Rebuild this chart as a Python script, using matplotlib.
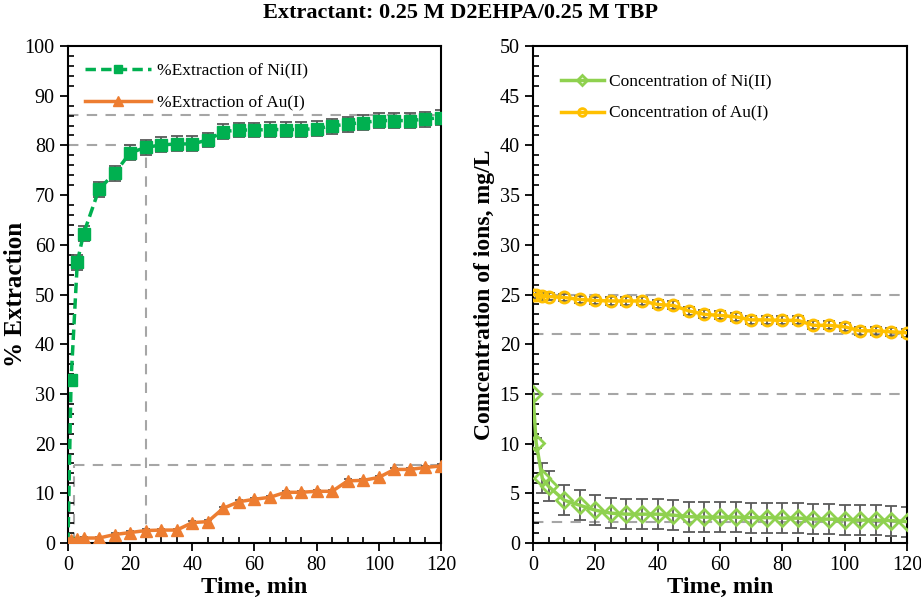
import numpy as np
import matplotlib.pyplot as plt
from matplotlib.ticker import MultipleLocator

plt.rcParams['font.family'] = ['Liberation Serif', 'DejaVu Serif']

# sampling times, min
t = [0, 1, 3, 5, 10, 15, 20, 25, 30, 35, 40, 45, 50, 55, 60, 65, 70, 75, 80,
     85, 90, 95, 100, 105, 110, 115, 120]

ext_ni = [0, 32.8, 56.5, 62.2, 71.2, 74.4, 78.5, 79.6, 80.1, 80.3, 80.3, 81.1,
          82.8, 83.1, 83.1, 83.2, 83.2, 83.2, 83.4, 83.9, 84.3, 84.6, 85.0,
          85.0, 85.0, 85.3, 85.6]
ext_ni_err = [0, 0.5] + [1.5] * 25
ext_au = [0, 0.6, 0.8, 1.0, 1.0, 1.7, 2.1, 2.5, 2.6, 2.6, 4.1, 4.3, 7.0, 8.3,
          8.8, 9.2, 10.2, 10.2, 10.4, 10.4, 12.5, 12.6, 13.2, 14.8, 14.8,
          15.2, 15.5]
ext_au_err = [0] + [0.3] * 26

conc_ni = [15.0, 10.1, 6.5, 5.7, 4.3, 3.8, 3.3, 3.0, 2.9, 2.9, 2.9, 2.8, 2.65,
           2.6, 2.6, 2.6, 2.55, 2.55, 2.5, 2.5, 2.4, 2.4, 2.35, 2.3, 2.3,
           2.25, 2.15]
conc_ni_err = [0, 0.5] + [1.5] * 25
conc_au = [25.0, 24.95, 24.85, 24.8, 24.7, 24.5, 24.4, 24.35, 24.35, 24.35,
           24.0, 23.9, 23.35, 23.0, 22.9, 22.75, 22.45, 22.45, 22.4, 22.4,
           21.9, 21.9, 21.75, 21.35, 21.35, 21.25, 21.15]
conc_au_err = [0.4] * 27

GRID = '#A6A6A6'
ERR = '#595959'

fig = plt.figure(figsize=(9.21, 6.09), dpi=100)
ax1 = fig.add_axes([0.0738, 0.1084, 0.405, 0.816])
ax2 = fig.add_axes([0.5787, 0.1084, 0.406, 0.816])

# left: % extraction
ax1.plot([0, 120], [86.2, 86.2], ls='--', color=GRID, lw=1.5, dashes=(5, 4), zorder=1)
ax1.plot([0, 25], [80, 80], ls='--', color=GRID, lw=1.5, dashes=(5, 4), zorder=1)
ax1.plot([25, 25], [0, 80], ls='--', color=GRID, lw=1.5, dashes=(5, 4), zorder=1)
ax1.plot([1.9, 120], [15.7, 15.7], ls='--', color=GRID, lw=1.5, dashes=(5, 4), zorder=1)
ax1.plot([1.9, 1.9], [0, 15.7], ls='--', color=GRID, lw=1.5, dashes=(5, 4), zorder=1)

ax1.errorbar(t, ext_ni, yerr=ext_ni_err, fmt='none', ecolor=ERR, elinewidth=1.3,
             capsize=4, capthick=1.3, zorder=2)
ax1.plot(t, ext_ni, ls='--', dashes=(3, 1.5), color='#00B050', lw=2.5, marker='s',
         ms=8, label='%Extraction of Ni(II)', zorder=3)
ax1.errorbar(t, ext_au, yerr=ext_au_err, fmt='none', ecolor=ERR, elinewidth=1.3,
             capsize=3, capthick=1.3, zorder=2)
ax1.plot(t, ext_au, ls='-', color='#ED7D31', lw=2.5, marker='^', ms=9,
         label='%Extraction of Au(I)', zorder=3)

ax1.set_xlim(0, 120)
ax1.set_ylim(0, 100)
ax1.xaxis.set_major_locator(MultipleLocator(20))
ax1.xaxis.set_minor_locator(MultipleLocator(5))
ax1.yaxis.set_major_locator(MultipleLocator(10))
ax1.yaxis.set_minor_locator(MultipleLocator(2))
ax1.set_xlabel('Time, min', fontsize=17.5, fontweight='bold', labelpad=1)
ax1.set_ylabel('% Extraction', fontsize=18, fontweight='bold')
ax1.yaxis.set_label_coords(-0.11, 0.5)
ax1.legend(loc='upper left', fontsize=12.5, frameon=False, handlelength=3.8,
           labelspacing=0.9, borderaxespad=0.6, handletextpad=0.3, markerscale=0.8)

# right: concentration
for yv in [25, 21, 15, 2.15]:
    ax2.plot([0, 120], [yv, yv], ls='--', color=GRID, lw=1.5, dashes=(5, 4), zorder=1)

ax2.errorbar(t, conc_ni, yerr=conc_ni_err, fmt='none', ecolor=ERR, elinewidth=1.3,
             capsize=4, capthick=1.3, zorder=2)
ax2.plot(t, conc_ni, ls='-', color='#8FD14F', lw=2.5, marker='D', ms=8, mfc='none',
         mew=2, label='Concentration of Ni(II)', zorder=3)
ax2.errorbar(t, conc_au, yerr=conc_au_err, fmt='none', ecolor=ERR, elinewidth=1.3,
             capsize=4, capthick=1.3, zorder=2)
ax2.plot(t, conc_au, ls='-', color='#FFC000', lw=2.5, marker='o', ms=8, mfc='none',
         mew=2, label='Concentration of Au(I)', zorder=3)

ax2.set_xlim(0, 120)
ax2.set_ylim(0, 50)
ax2.xaxis.set_major_locator(MultipleLocator(20))
ax2.xaxis.set_minor_locator(MultipleLocator(5))
ax2.yaxis.set_major_locator(MultipleLocator(5))
ax2.yaxis.set_minor_locator(MultipleLocator(1))
ax2.set_xlabel('Time, min', fontsize=17.5, fontweight='bold', labelpad=1)
ax2.set_ylabel('Comcentration of ions, mg/L', fontsize=17, fontweight='bold', labelpad=3)
ax2.legend(loc='upper left', fontsize=12.5, frameon=False, handlelength=2.5,
           labelspacing=0.9, borderaxespad=1.2, handletextpad=0.3, markerscale=0.7)

for ax in (ax1, ax2):
    ax.tick_params(which='major', direction='out', length=6, width=1.3,
                   labelsize=14.5, top=False, right=False)
    ax.tick_params(which='minor', direction='in', length=4, width=1.2,
                   top=False, right=False)
    for s in ax.spines.values():
        s.set_linewidth(1.5)

fig.suptitle('Extractant: 0.25 M D2EHPA/0.25 M TBP', fontsize=16, fontweight='bold',
             y=0.995)

fig.savefig('out.png', dpi=100)
